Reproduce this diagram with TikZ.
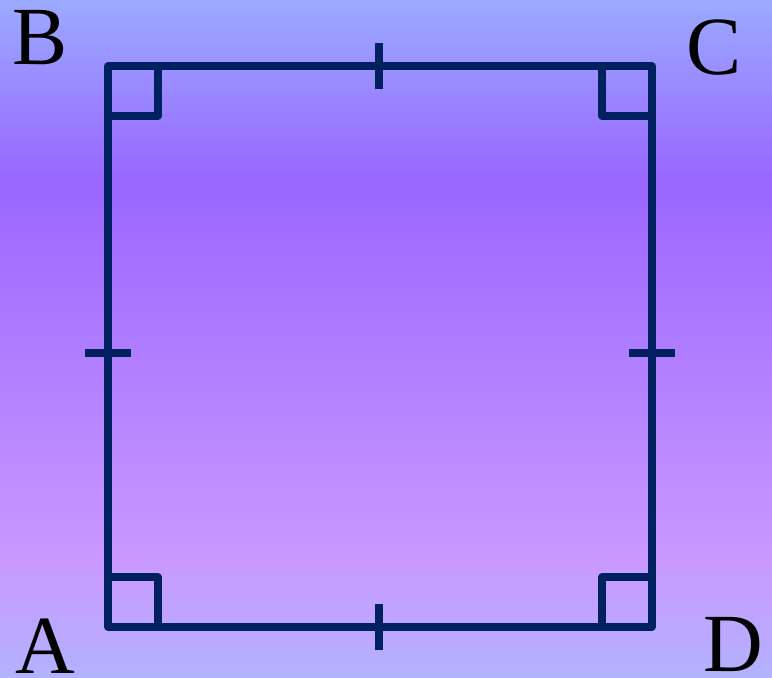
\documentclass[tikz,border=0pt]{standalone}
\usepackage{fontspec}
\setmainfont{Liberation Serif}
\usetikzlibrary{calc}

\definecolor{navy}{HTML}{002060}
\definecolor{bgtop}{RGB}{154,170,255}
\definecolor{bgmid}{RGB}{153,102,255}
\definecolor{bglow}{RGB}{202,152,255}
\definecolor{bgbot}{RGB}{178,178,255}

\tikzset{
  side/.style={navy,line width=5.3pt,line join=round},
  tick/.style={navy,line width=5.3pt},
  vertex/.style={inner sep=0pt,font=\fontsize{62}{62}\selectfont}
}

\begin{document}
\begin{tikzpicture}[x=0.75pt,y=-0.75pt]
  % background
  \useasboundingbox (0,0) rectangle (772,678);
  \shade[top color=bgtop,bottom color=bgmid] (0,0) rectangle (772,180);
  \shade[top color=bgmid,bottom color=bglow] (0,179.5) rectangle (772,560);
  \shade[top color=bglow,bottom color=bgbot] (0,559.5) rectangle (772,678);

  % corners
  \coordinate (a) at (108,627);
  \coordinate (b) at (108,66);
  \coordinate (c) at (652,66);
  \coordinate (d) at (652,627);

  % right angle marks
  \draw[side] ($(a)+(0,-50)$) -| ($(a)+(50,0)$);
  \draw[side] ($(b)+(0,50)$) -| ($(b)+(50,0)$);
  \draw[side] ($(c)+(0,50)$) -| ($(c)+(-50,0)$);
  \draw[side] ($(d)+(0,-50)$) -| ($(d)+(-50,0)$);

  % square
  \draw[side] (a) -- (b) -- (c) -- (d) -- cycle;

  % equal sides
  \draw[tick] ($(b)!.5!(c)+(-1,-23)$) -- ++(0,46);
  \draw[tick] ($(a)!.5!(d)+(-1,-23)$) -- ++(0,46);
  \draw[tick] ($(a)!.5!(b)+(-23,6.5)$) -- ++(46,0);
  \draw[tick] ($(c)!.5!(d)+(-23,6.5)$) -- ++(46,0);

  % labels
  \node[vertex] (la) at (45,646) {A};
  \node[vertex] (lb) at (40,38) {B};
  \node[vertex] (lc) at (714,48) {C};
  \node[vertex] (ld) at (733,645) {D};
\end{tikzpicture}
\end{document}
